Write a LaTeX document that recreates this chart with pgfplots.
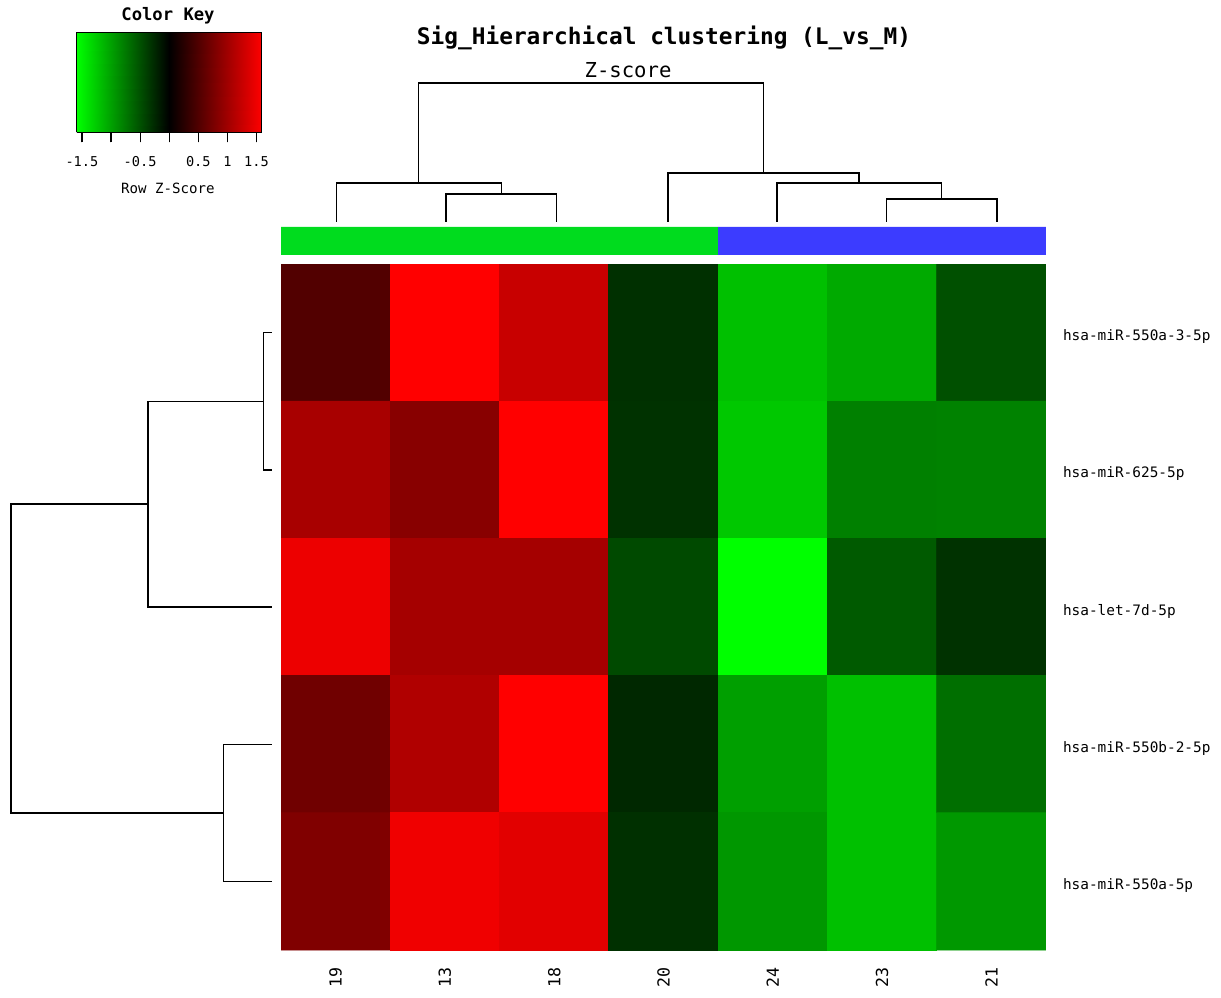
\documentclass[border=0pt]{standalone}
\usepackage{fontspec}
\setmainfont{DejaVu Sans Mono}
\setmonofont{DejaVu Sans Mono}
\usepackage{pgfplots}
\usepackage{pgfplotstable}
\pgfplotsset{compat=1.18}
\definecolor{sidegreen}{RGB}{0,220,30}
\definecolor{sideblue}{RGB}{60,60,255}
\pgfplotsset{colormap={gkr}{rgb255=(0,255,0) rgb255=(0,0,0) rgb255=(255,0,0)}}
\tikzset{dendro/.style={black, solid, line width=0.7pt, mark=none}}
\pgfplotstableread{
x y z
0 0 0.51
1 0 1.59
2 0 1.25
3 0 -0.30
4 0 -1.20
5 0 -1.06
6 0 -0.50
0 1 1.05
1 1 0.85
2 1 1.59
3 1 -0.31
4 1 -1.25
5 1 -0.80
6 1 -0.81
0 2 1.48
1 2 1.03
2 2 1.03
3 2 -0.46
4 2 -1.59
5 2 -0.56
6 2 -0.31
0 3 0.70
1 3 1.10
2 3 1.59
3 3 -0.25
4 3 -0.99
5 3 -1.20
6 3 -0.69
0 4 0.80
1 4 1.50
2 4 1.41
3 4 -0.30
4 4 -0.94
5 4 -1.20
6 4 -0.95
}\heat
\begin{document}
\begin{tikzpicture}[x=1pt,y=1pt]
\useasboundingbox (0,0) rectangle (610.5,498.5);

% heatmap
\begin{axis}[at={(140.5pt,23.5pt)}, anchor=south west, scale only axis,
  width=382.5pt, height=343pt,
  xmin=-0.5, xmax=6.5, ymin=-0.5, ymax=4.5, y dir=reverse,
  colormap name=gkr, point meta min=-1.59, point meta max=1.59,
  axis line style={draw=none}, tick style={draw=none}, major tick length=0pt,
  xtick={0,...,6}, xticklabels={19,13,18,20,24,23,21},
  xticklabel shift=5pt,
  xticklabel style={rotate=90, anchor=east, font=\fontsize{8.3}{9}\selectfont},
  ytick={0,...,4},
  yticklabels={hsa-miR-550a-3-5p,hsa-miR-625-5p,hsa-let-7d-5p,hsa-miR-550b-2-5p,hsa-miR-550a-5p},
  yticklabel pos=right,
  yticklabel style={anchor=west, font=\fontsize{7.2}{8}\selectfont, xshift=5pt, yshift=-2pt},
]
\addplot[matrix plot*, mesh/cols=7, point meta=explicit] table[meta=z]{\heat};
\end{axis}

% column dendrogram + side colour bar
\begin{axis}[at={(140.5pt,371pt)}, anchor=south west, scale only axis,
  width=382.5pt, height=86pt,
  xmin=-0.5, xmax=6.5, ymin=-33, ymax=139, axis lines=none, clip=false]
\addplot[fill=sidegreen, draw=none, mark=none] coordinates {(-0.5,-33) (3.5,-33) (3.5,-5) (-0.5,-5) (-0.5,-33)};
\addplot[fill=sideblue, draw=none, mark=none] coordinates {(3.5,-33) (6.5,-33) (6.5,-5) (3.5,-5) (3.5,-33)};
\addplot[dendro] coordinates {(1.01,0) (1.01,28) (2.02,28) (2.02,0)};
\addplot[dendro] coordinates {(0.01,0) (0.01,39) (1.515,39) (1.515,28)};
\addplot[dendro] coordinates {(5.04,0) (5.04,23) (6.05,23) (6.05,0)};
\addplot[dendro] coordinates {(4.04,0) (4.04,39) (5.545,39) (5.545,23)};
\addplot[dendro] coordinates {(3.04,0) (3.04,49) (4.79,49) (4.79,39)};
\addplot[dendro] coordinates {(0.76,39) (0.76,139) (3.915,139) (3.915,49)};
\end{axis}

% row dendrogram
\begin{axis}[at={(5.5pt,23.5pt)}, anchor=south west, scale only axis,
  width=130.5pt, height=343pt,
  xmin=0, xmax=261, x dir=reverse, ymin=-0.5, ymax=4.5, y dir=reverse,
  axis lines=none, clip=false]
\addplot[dendro] coordinates {(0,0) (8.7,0) (8.7,1) (0,1)};
\addplot[dendro] coordinates {(8.7,0.5) (124,0.5) (124,2) (0,2)};
\addplot[dendro] coordinates {(0,3) (48.7,3) (48.7,4) (0,4)};
\addplot[dendro] coordinates {(124,1.25) (261,1.25) (261,3.5) (48.7,3.5)};
\end{axis}

% colour key
\begin{axis}[at={(38.35pt,432.35pt)}, anchor=south west, scale only axis,
  width=92.5pt, height=50pt,
  xmin=-1.59, xmax=1.59, ymin=0, ymax=1, zmin=-1, zmax=1, view={0}{90},
  colormap name=gkr, point meta min=-1.59, point meta max=1.59,
  ytick=\empty, ztick=\empty,
  xtick={-1.5,-1,-0.5,0,0.5,1,1.5}, xticklabels={-1.5,,-0.5,,0.5,1,1.5},
  xtick pos=left, tick align=outside, major tick length=5pt,
  tick style={black, line width=0.6pt},
  xticklabel style={font=\fontsize{6.8}{8}\selectfont, yshift=-3.5pt},
  axis line style={line width=0.4pt},
]
\addplot3[surf, shader=interp, point meta=x, mesh/cols=3] coordinates {
(-1.59,0,0) (0,0,0) (1.59,0,0)

(-1.59,1,0) (0,1,0) (1.59,1,0)
};
\end{axis}

\node[font=\bfseries\fontsize{11.4}{13}\selectfont] at (332,479.5) {Sig\_Hierarchical clustering (L\_vs\_M)};
\node[font=\fontsize{10.3}{12}\selectfont] at (314,463.5) {Z-score};
\node[font=\bfseries\fontsize{8.6}{10}\selectfont] at (84,490.5) {Color Key};
\node[font=\fontsize{7.06}{8}\selectfont] at (84,404.5) {Row Z-Score};
\end{tikzpicture}
\end{document}
